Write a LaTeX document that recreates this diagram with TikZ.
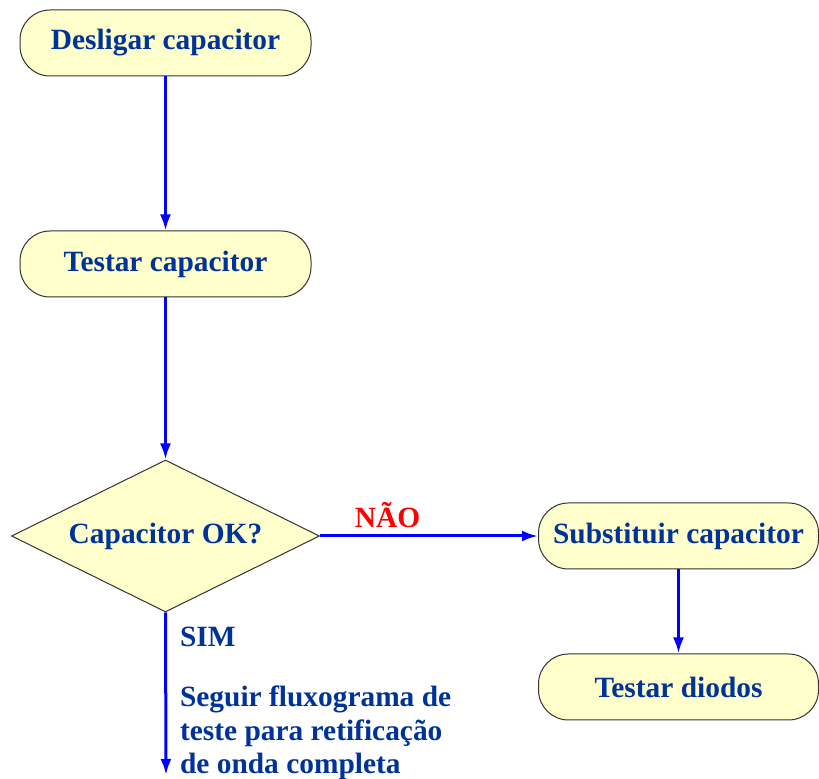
\documentclass[tikz,border=0pt]{standalone}
\usepackage{fontspec}
\setmainfont{Liberation Serif}
\usepackage{xcolor}
\usetikzlibrary{arrows.meta,positioning,shapes.geometric}
\definecolor{boxyellow}{RGB}{255,255,204}
\definecolor{textblue}{RGB}{0,51,153}
\definecolor{linkblue}{RGB}{0,0,255}
\definecolor{noored}{RGB}{255,0,0}

\begin{document}
\begin{tikzpicture}[
  every node/.style={font=\fontsize{14.7}{16.75}\selectfont\bfseries, text=textblue},
  box/.style={draw=black!80, fill=boxyellow, rounded corners=15pt, minimum height=33pt, align=center, inner sep=3pt, line width=0.5pt},
  bigbox/.style={box, minimum width=145.5pt},
  sidebox/.style={box, minimum width=140pt},
  decision/.style={diamond, aspect=2, draw=black!80, fill=boxyellow, minimum width=154pt, minimum height=76pt, inner sep=0pt, line width=0.5pt},
  arr/.style={-{Latex[length=8pt,width=5.5pt]}, draw=linkblue, line width=1.5pt}
]
\useasboundingbox (0,0) rectangle (409.5pt,-389.5pt);

\node[bigbox] (desl) at (82.75pt,-21.5pt) {Desligar capacitor};
\node[bigbox, below=77pt of desl] (test) {Testar capacitor};
\node[decision, below=81pt of test] (ok) {Capacitor OK?};
\node[sidebox, right=109pt of ok] (subst) {Substituir capacitor};
\node[sidebox, below=42pt of subst] (diod) {Testar diodos};
\node[anchor=west] (sim) at (86.5pt,-318.5pt) {SIM};
\node[anchor=west, align=left] (seguir) at (86.5pt,-366.5pt) {Seguir fluxograma de\\teste para retificação\\de onda completa};
\coordinate (fim) at (83pt,-387.5pt);

\draw[arr] (desl) -- (test);
\draw[arr] (test) -- (ok);
\draw[arr] (ok) -- node[pos=0.31, above, text=noored] (nao) {NÃO} (subst);
\draw[arr] (subst) -- (diod);
\draw[arr] (ok.south) -- (fim);
\end{tikzpicture}
\end{document}
